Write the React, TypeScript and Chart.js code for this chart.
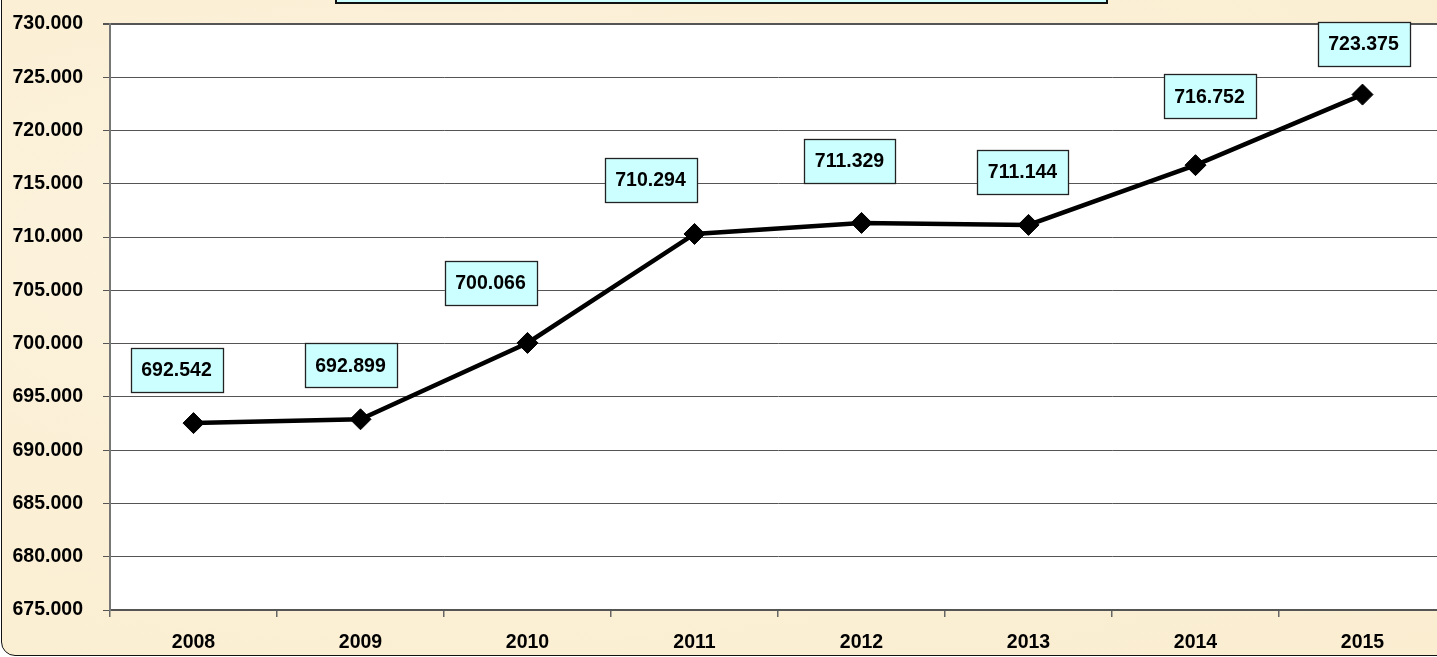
import React, { useEffect, useRef } from "react";
import { Chart, registerables } from "chart.js";

Chart.register(...registerables);

const years = ["2008", "2009", "2010", "2011", "2012", "2013", "2014", "2015"];
const values = [692.542, 692.899, 700.066, 710.294, 711.329, 711.144, 716.752, 723.375];
const yMin = 675;
const yMax = 730;
const yStep = 5;

// label box placement (pixels, relative to the point) — layout only
const labelDX = [-17, -10, -37, -44, -12, -6, 14, 1];
const labelDY = [-53, -54, -60, -54, -62, -53, -69, -51];

const FONT = "'Liberation Sans', Arial, sans-serif";
const CANVAS_W = 1460;
const CANVAS_H = 657;

const labelPlugin = {
  id: "boxLabels",
  afterDatasetsDraw(chart: any) {
    const ctx = chart.ctx;
    const meta = chart.getDatasetMeta(0);
    ctx.save();
    ctx.font = `bold 19.5px ${FONT}`;
    ctx.textAlign = "center";
    ctx.textBaseline = "middle";
    meta.data.forEach((pt: any, i: number) => {
      const text = values[i].toFixed(3);
      const cx = pt.x + labelDX[i];
      const cy = pt.y + labelDY[i];
      const w = Math.round(ctx.measureText(text).width + 22);
      const h = 44;
      const x0 = Math.round(cx - w / 2) + 0.5;
      const y0 = Math.round(cy - h / 2) + 0.5;
      ctx.fillStyle = "#CCFFFF";
      ctx.fillRect(x0, y0, w, h);
      ctx.strokeStyle = "#222";
      ctx.lineWidth = 1.3;
      ctx.strokeRect(x0, y0, w, h);
      ctx.fillStyle = "#000";
      ctx.fillText(text, cx, cy + 1);
    });
    ctx.restore();
  },
};

export default function App() {
  const ref = useRef<HTMLCanvasElement>(null);

  useEffect(() => {
    document.body.style.margin = "0";
    document.body.style.overflow = "hidden";
    const canvas = ref.current!;
    const chart = new Chart(canvas, {
      type: "line",
      data: {
        labels: years,
        datasets: [
          {
            data: values,
            borderColor: "#000",
            borderWidth: 4.5,
            pointStyle: "rectRot",
            pointRadius: 10.5,
            pointBorderWidth: 1,
            pointBackgroundColor: "#000",
            pointBorderColor: "#000",
            tension: 0,
            fill: false,
          },
        ],
      },
      options: {
        responsive: false,
        animation: false,
        devicePixelRatio: 1,
        layout: { padding: { left: 0, top: 24, right: CANVAS_W - 1446, bottom: 0 } },
        plugins: {
          legend: { display: false },
          title: { display: false },
          tooltip: { enabled: false },
        },
        scales: {
          x: {
            type: "category",
            offset: true,
            grid: {
              offset: true,
              drawOnChartArea: false,
              drawTicks: true,
              tickLength: 7,
              color: "#666",
              lineWidth: 1.5,
            },
            border: { display: true, color: "#555", width: 2 },
            ticks: {
              color: "#000",
              font: { family: FONT, size: 19.5, weight: "bold" },
              padding: 14,
              maxRotation: 0,
            },
            afterFit: (scale: any) => {
              scale.height = 47;
              scale.paddingLeft = 0;
              scale.paddingRight = 0;
            },
          },
          y: {
            min: yMin,
            max: yMax,
            grid: {
              color: "#555",
              lineWidth: (c: any) => (c.tick && c.tick.value === yMax ? 2 : 1),
              tickLength: 7,
              drawTicks: true,
            },
            border: { display: true, color: "#777", width: 2 },
            ticks: {
              stepSize: yStep,
              color: "#000",
              padding: 20,
              font: { family: FONT, size: 19.5, weight: "bold" },
              callback: (v: any) => Number(v).toFixed(3),
            },
            afterFit: (scale: any) => {
              scale.width = 110;
              scale.paddingTop = 0;
              scale.paddingBottom = 0;
            },
          },
        },
      },
      plugins: [
        {
          id: "plotBg",
          beforeDraw(c: any) {
            const { ctx, chartArea } = c;
            ctx.save();
            ctx.fillStyle = "#ffffff";
            ctx.fillRect(chartArea.left, chartArea.top, chartArea.right - chartArea.left, chartArea.bottom - chartArea.top);
            ctx.restore();
          },
        },
        labelPlugin,
      ],
    } as any);
    return () => chart.destroy();
  }, []);

  return (
    <div style={{ position: "fixed", left: 0, top: 0, width: 1437, height: 657, overflow: "hidden" }}>
      <div
        style={{
          position: "absolute",
          left: 1,
          top: -30,
          width: 1500,
          height: 686,
          boxSizing: "border-box",
          border: "1.5px solid #111",
          borderRadius: 14,
          background:
            "radial-gradient(ellipse at 30% 40%, #fdf5e2 0%, #fbf0d6 45%, #faedd0 100%)",
        }}
      />
      <div
        style={{
          position: "absolute",
          left: 335,
          top: -30,
          width: 773,
          height: 34,
          boxSizing: "border-box",
          border: "2px solid #111",
          background: "#CCFFFF",
        }}
      />
      <canvas
        ref={ref}
        width={CANVAS_W}
        height={CANVAS_H}
        style={{ position: "absolute", left: 0, top: 0, width: CANVAS_W, height: CANVAS_H }}
      />
    </div>
  );
}
